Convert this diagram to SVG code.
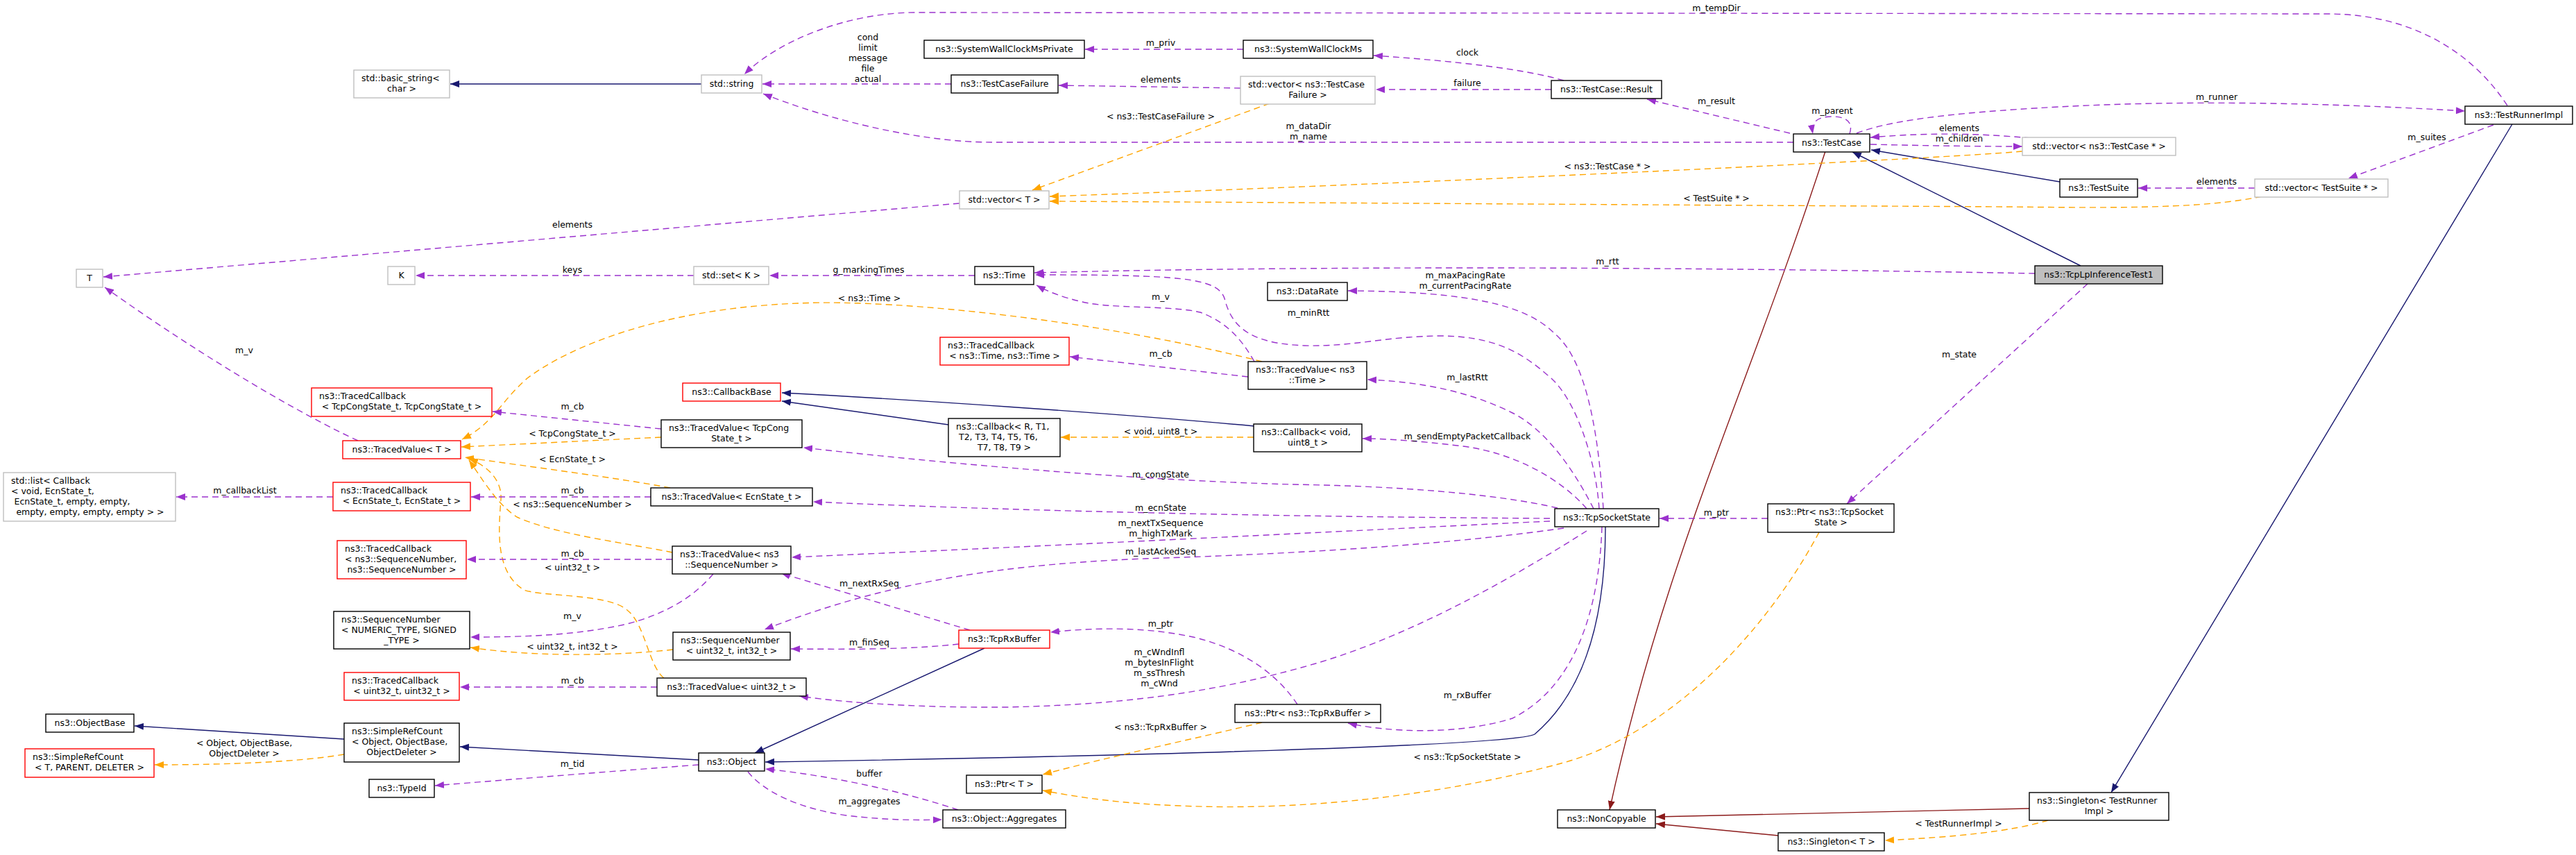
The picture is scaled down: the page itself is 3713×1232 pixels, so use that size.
<svg xmlns="http://www.w3.org/2000/svg" width="3713" height="1232" viewBox="0 0 3713 1232">
<style>
text{font-family:"DejaVu Sans","Liberation Sans",sans-serif;font-size:12.5px;fill:#000}
.c{text-anchor:middle}
.node rect{fill:#fff;stroke:#000;stroke-width:1.4}
.node.g rect{stroke:#bfbfbf}
.node.r rect{stroke:#ff0000}
.node.root rect{fill:#bfbfbf}
#edges path{fill:none;stroke-width:1.4}
.inh{stroke:#191970;marker-end:url(#a-inh)}
.priv{stroke:#8b1a1a;marker-end:url(#a-priv)}
.use{stroke:#9a32cd;stroke-dasharray:9,6;marker-end:url(#a-use)}
.tpl{stroke:#ffa500;stroke-dasharray:9,6;marker-end:url(#a-tpl)}
</style>
<defs>
<marker id="a-inh" markerUnits="userSpaceOnUse" markerWidth="14" markerHeight="11" refX="13" refY="5" orient="auto" viewBox="0 0 14 10"><path d="M0,0 L13,5 L0,10 z" fill="#191970"/></marker>
<marker id="a-priv" markerUnits="userSpaceOnUse" markerWidth="14" markerHeight="11" refX="13" refY="5" orient="auto" viewBox="0 0 14 10"><path d="M0,0 L13,5 L0,10 z" fill="#8b1a1a"/></marker>
<marker id="a-use" markerUnits="userSpaceOnUse" markerWidth="14" markerHeight="11" refX="13" refY="5" orient="auto" viewBox="0 0 14 10"><path d="M0,0 L13,5 L0,10 z" fill="#9a32cd"/></marker>
<marker id="a-tpl" markerUnits="userSpaceOnUse" markerWidth="14" markerHeight="11" refX="13" refY="5" orient="auto" viewBox="0 0 14 10"><path d="M0,0 L13,5 L0,10 z" fill="#ffa500"/></marker>
</defs>
<rect width="3713" height="1232" fill="#fff"/>
<g id="edges">
<path class="inh" d="M1011,121 L649,121"/>
<path class="inh" d="M2969,262 L2697,216"/>
<path class="inh" d="M2999,383 L2670,219"/>
<path class="inh" d="M3621,179 L3043,1142"/>
<path class="inh" d="M1367,612 L1127,578"/>
<path class="inh" d="M1808,614 C1600,595 1300,575 1127,566"/>
<path class="inh" d="M496,1065 L194,1046"/>
<path class="inh" d="M1007,1095 L663,1076"/>
<path class="inh" d="M1419,934 L1088,1085"/>
<path class="inh" d="M2314,759 C2314,900 2280,1000 2212,1058 C2180,1075 1600,1090 1103,1098"/>
<path class="priv" d="M2631,218 C2520,560 2400,800 2320,1167"/>
<path class="priv" d="M2925,1165 L2387,1177"/>
<path class="priv" d="M2563,1204 L2387,1187"/>
<path class="tpl" d="M1830,149 L1488,274"/>
<path class="tpl" d="M2915,218 C2800,229 2000,266 1513,283"/>
<path class="tpl" d="M3260,283 C3180,300 3060,300 2900,298 C2500,296 1900,292 1513,290"/>
<path class="tpl" d="M1819,521 C1600,465 1300,430 1150,437 C950,445 820,500 760,545 C720,580 712,610 666,633"/>
<path class="tpl" d="M953,630 L665,644"/>
<path class="tpl" d="M966,703 C900,690 760,672 670,659"/>
<path class="tpl" d="M969,796 C900,782 800,770 745,745 C715,725 695,690 676,663"/>
<path class="tpl" d="M957,977 C935,960 930,900 905,880 C880,855 780,860 755,850 C715,825 718,770 722,720 C724,690 700,670 676,661"/>
<path class="tpl" d="M970,936 C900,944 780,948 678,933"/>
<path class="tpl" d="M1807,630 L1529,630"/>
<path class="tpl" d="M496,1087 C430,1098 330,1102 223,1102"/>
<path class="tpl" d="M1819,1041 C1720,1065 1600,1090 1503,1116"/>
<path class="tpl" d="M2622,767 C2540,920 2400,1060 2250,1100 C2100,1140 1900,1170 1700,1161 C1620,1158 1560,1150 1503,1139"/>
<path class="tpl" d="M2952,1182 C2900,1198 2820,1206 2717,1211"/>
<path class="use" d="M3614,152 C3560,70 3470,20 3355,20 L1320,18 C1220,18 1120,60 1073,107"/>
<path class="use" d="M1371,121 L1099,121"/>
<path class="use" d="M2585,205 L1430,205 C1330,205 1200,175 1100,135"/>
<path class="use" d="M1792,71 L1564,71"/>
<path class="use" d="M2254,116 C2200,100 2100,88 1980,80"/>
<path class="use" d="M2236,129 L1983,129"/>
<path class="use" d="M1788,127 L1526,123"/>
<path class="use" d="M2580,192 L2374,143"/>
<path class="use" d="M2666,193 C2672,175 2660,168 2641,168 C2620,168 2610,175 2613,193"/>
<path class="use" d="M2676,192 C2720,175 2800,163 2967,154 C3150,144 3350,148 3553,160"/>
<path class="use" d="M2927,199 C2860,193 2790,190 2696,198"/>
<path class="use" d="M2696,208 C2780,210 2850,211 2915,211"/>
<path class="use" d="M3594,180 L3385,257"/>
<path class="use" d="M3250,271 L3082,271"/>
<path class="use" d="M1383,293 L149,399"/>
<path class="use" d="M1000,397 L599,397"/>
<path class="use" d="M1405,397 L1109,397"/>
<path class="use" d="M2933,394 C2600,388 2000,380 1491,393"/>
<path class="use" d="M2305,733 C2300,660 2270,570 2230,540 C2190,505 2150,485 2079,484 C2000,484 1950,500 1880,498 C1800,495 1775,470 1765,430 C1755,400 1700,396 1492,396"/>
<path class="use" d="M2311,733 C2305,640 2290,520 2240,480 C2200,440 2120,420 1943,419"/>
<path class="use" d="M2297,733 C2270,680 2230,620 2180,595 C2120,565 2050,550 1971,547"/>
<path class="use" d="M2287,733 C2250,690 2180,650 2100,642 C2050,636 2000,632 1964,632"/>
<path class="use" d="M1808,521 C1790,490 1770,465 1730,450 C1690,440 1600,445 1560,435 C1530,428 1510,420 1494,411"/>
<path class="use" d="M1799,543 L1542,514"/>
<path class="use" d="M2245,732 C2150,710 2000,700 1860,698 C1650,692 1400,672 1158,645"/>
<path class="use" d="M953,618 L710,593"/>
<path class="use" d="M516,635 C440,600 300,520 151,414"/>
<path class="use" d="M2234,747 C1900,745 1500,738 1172,723"/>
<path class="use" d="M938,716 L679,716"/>
<path class="use" d="M480,716 L254,716"/>
<path class="use" d="M2234,751 C2000,762 1700,778 1141,803"/>
<path class="use" d="M969,806 L673,806"/>
<path class="use" d="M2254,761 C2050,790 1800,800 1650,805 C1400,815 1250,850 1102,907"/>
<path class="use" d="M1028,827 C1000,860 960,885 900,900 C830,915 760,918 678,918"/>
<path class="use" d="M1398,908 L1126,826"/>
<path class="use" d="M1382,928 C1320,935 1250,936 1140,935"/>
<path class="use" d="M2287,765 C2200,820 2050,910 1900,955 C1780,990 1650,1015 1450,1019 C1300,1020 1200,1010 1152,1003"/>
<path class="use" d="M947,990 L663,990"/>
<path class="use" d="M1870,1015 C1840,970 1790,935 1720,918 C1650,903 1580,904 1514,911"/>
<path class="use" d="M2309,759 C2305,880 2270,990 2180,1035 C2100,1060 2000,1055 1943,1042"/>
<path class="use" d="M1007,1102 C900,1110 750,1122 627,1132"/>
<path class="use" d="M1381,1167 C1300,1140 1200,1118 1103,1108"/>
<path class="use" d="M1078,1112 C1100,1140 1150,1165 1220,1175 C1280,1182 1320,1182 1358,1181"/>
<path class="use" d="M2548,747 L2392,747"/>
<path class="use" d="M3009,409 L2662,726"/>
</g>
<g id="edge-labels" class="c">
<text x="2474" y="16" class="c">m_tempDir</text>
<text x="1251" y="58" class="c">cond</text>
<text x="1251" y="73" class="c">limit</text>
<text x="1251" y="88" class="c">message</text>
<text x="1251" y="103" class="c">file</text>
<text x="1251" y="118" class="c">actual</text>
<text x="1673" y="66" class="c">m_priv</text>
<text x="2115" y="80" class="c">clock</text>
<text x="1673" y="119" class="c">elements</text>
<text x="2115" y="124" class="c">failure</text>
<text x="2474" y="150" class="c">m_result</text>
<text x="2641" y="164" class="c">m_parent</text>
<text x="3195" y="144" class="c">m_runner</text>
<text x="1673" y="172" class="c">&lt; ns3::TestCaseFailure &gt;</text>
<text x="1886" y="186" class="c">m_dataDir</text>
<text x="1886" y="201" class="c">m_name</text>
<text x="2824" y="189" class="c">elements</text>
<text x="2824" y="204" class="c">m_children</text>
<text x="3498" y="202" class="c">m_suites</text>
<text x="2317" y="244" class="c">&lt; ns3::TestCase * &gt;</text>
<text x="3195" y="266" class="c">elements</text>
<text x="2474" y="290" class="c">&lt; TestSuite * &gt;</text>
<text x="825" y="328" class="c">elements</text>
<text x="2317" y="381" class="c">m_rtt</text>
<text x="825" y="393" class="c">keys</text>
<text x="1252" y="393" class="c">g_markingTimes</text>
<text x="2112" y="401" class="c">m_maxPacingRate</text>
<text x="2112" y="416" class="c">m_currentPacingRate</text>
<text x="1673" y="432" class="c">m_v</text>
<text x="1253" y="434" class="c">&lt; ns3::Time &gt;</text>
<text x="1886" y="455" class="c">m_minRtt</text>
<text x="352" y="509" class="c">m_v</text>
<text x="2824" y="515" class="c">m_state</text>
<text x="1673" y="514" class="c">m_cb</text>
<text x="2115" y="548" class="c">m_lastRtt</text>
<text x="825" y="590" class="c">m_cb</text>
<text x="1673" y="626" class="c">&lt; void, uint8_t &gt;</text>
<text x="825" y="629" class="c">&lt; TcpCongState_t &gt;</text>
<text x="2115" y="633" class="c">m_sendEmptyPacketCallback</text>
<text x="825" y="666" class="c">&lt; EcnState_t &gt;</text>
<text x="1673" y="688" class="c">m_congState</text>
<text x="353" y="711" class="c">m_callbackList</text>
<text x="825" y="711" class="c">m_cb</text>
<text x="825" y="731" class="c">&lt; ns3::SequenceNumber &gt;</text>
<text x="1673" y="736" class="c">m_ecnState</text>
<text x="2474" y="743" class="c">m_ptr</text>
<text x="1673" y="758" class="c">m_nextTxSequence</text>
<text x="1673" y="773" class="c">m_highTxMark</text>
<text x="1673" y="799" class="c">m_lastAckedSeq</text>
<text x="825" y="802" class="c">m_cb</text>
<text x="825" y="822" class="c">&lt; uint32_t &gt;</text>
<text x="1253" y="845" class="c">m_nextRxSeq</text>
<text x="825" y="892" class="c">m_v</text>
<text x="1673" y="903" class="c">m_ptr</text>
<text x="1253" y="930" class="c">m_finSeq</text>
<text x="825" y="936" class="c">&lt; uint32_t, int32_t &gt;</text>
<text x="1671" y="944" class="c">m_cWndInfl</text>
<text x="1671" y="959" class="c">m_bytesInFlight</text>
<text x="1671" y="974" class="c">m_ssThresh</text>
<text x="1671" y="989" class="c">m_cWnd</text>
<text x="825" y="985" class="c">m_cb</text>
<text x="2115" y="1006" class="c">m_rxBuffer</text>
<text x="1673" y="1052" class="c">&lt; ns3::TcpRxBuffer &gt;</text>
<text x="352" y="1075" class="c">&lt; Object, ObjectBase,</text>
<text x="352" y="1090" class="c">ObjectDeleter &gt;</text>
<text x="2115" y="1095" class="c">&lt; ns3::TcpSocketState &gt;</text>
<text x="825" y="1105" class="c">m_tid</text>
<text x="1253" y="1119" class="c">buffer</text>
<text x="1253" y="1159" class="c">m_aggregates</text>
<text x="2823" y="1191" class="c">&lt; TestRunnerImpl &gt;</text>
</g>
<g id="n_basic_string" class="node g"><rect x="510" y="101" width="138" height="40"/><text x="521" y="117">std::basic_string&lt;</text><text x="579" y="132" class="c">char &gt;</text></g>
<g id="n_string" class="node g"><rect x="1011" y="108" width="87" height="26"/><text x="1054.5" y="125" class="c">std::string</text></g>
<g id="n_swcmp" class="node"><rect x="1332" y="58" width="231" height="26"/><text x="1447.5" y="75" class="c">ns3::SystemWallClockMsPrivate</text></g>
<g id="n_swcm" class="node"><rect x="1792" y="58" width="187" height="26"/><text x="1885.5" y="75" class="c">ns3::SystemWallClockMs</text></g>
<g id="n_tcf" class="node"><rect x="1371" y="108" width="154" height="26"/><text x="1448" y="125" class="c">ns3::TestCaseFailure</text></g>
<g id="n_vec_tcf" class="node g"><rect x="1788" y="110" width="194" height="40"/><text x="1799" y="126">std::vector&lt; ns3::TestCase</text><text x="1885" y="141" class="c">Failure &gt;</text></g>
<g id="n_result" class="node"><rect x="2236" y="116" width="159" height="26"/><text x="2315.5" y="133" class="c">ns3::TestCase::Result</text></g>
<g id="n_testcase" class="node"><rect x="2585" y="193" width="110" height="26"/><text x="2640" y="210" class="c">ns3::TestCase</text></g>
<g id="n_vec_tc" class="node g"><rect x="2915" y="198" width="221" height="26"/><text x="3025.5" y="215" class="c">std::vector&lt; ns3::TestCase * &gt;</text></g>
<g id="n_runner" class="node"><rect x="3553" y="153" width="155" height="26"/><text x="3630.5" y="170" class="c">ns3::TestRunnerImpl</text></g>
<g id="n_suite" class="node"><rect x="2969" y="258" width="112" height="26"/><text x="3025" y="275" class="c">ns3::TestSuite</text></g>
<g id="n_vec_ts" class="node g"><rect x="3250" y="258" width="192" height="26"/><text x="3346" y="275" class="c">std::vector&lt; TestSuite * &gt;</text></g>
<g id="n_vec_t" class="node g"><rect x="1383" y="275" width="129" height="26"/><text x="1447.5" y="292" class="c">std::vector&lt; T &gt;</text></g>
<g id="n_root" class="node root"><rect x="2933" y="383" width="184" height="26"/><text x="3025" y="400" class="c">ns3::TcpLpInferenceTest1</text></g>
<g id="n_T" class="node g"><rect x="110" y="388" width="38" height="26"/><text x="129" y="405" class="c">T</text></g>
<g id="n_K" class="node g"><rect x="559" y="384" width="39" height="26"/><text x="578.5" y="401" class="c">K</text></g>
<g id="n_set" class="node g"><rect x="1000" y="384" width="108" height="26"/><text x="1054" y="401" class="c">std::set&lt; K &gt;</text></g>
<g id="n_time" class="node"><rect x="1405" y="384" width="85" height="26"/><text x="1447.5" y="401" class="c">ns3::Time</text></g>
<g id="n_datarate" class="node"><rect x="1827" y="407" width="115" height="26"/><text x="1884.5" y="424" class="c">ns3::DataRate</text></g>
<g id="n_tc_time" class="node r"><rect x="1355" y="486" width="186" height="40"/><text x="1366" y="502">ns3::TracedCallback</text><text x="1448" y="517" class="c">&lt; ns3::Time, ns3::Time &gt;</text></g>
<g id="n_tv_time" class="node"><rect x="1799" y="521" width="171" height="40"/><text x="1810" y="537">ns3::TracedValue&lt; ns3</text><text x="1884.5" y="552" class="c">::Time &gt;</text></g>
<g id="n_tc_cong" class="node r"><rect x="449" y="559" width="260" height="41"/><text x="460" y="575">ns3::TracedCallback</text><text x="579" y="590" class="c">&lt; TcpCongState_t, TcpCongState_t &gt;</text></g>
<g id="n_cbbase" class="node r"><rect x="984" y="552" width="141" height="26"/><text x="1054.5" y="569" class="c">ns3::CallbackBase</text></g>
<g id="n_tv_cong" class="node"><rect x="953" y="605" width="203" height="40"/><text x="964" y="621">ns3::TracedValue&lt; TcpCong</text><text x="1054.5" y="636" class="c">State_t &gt;</text></g>
<g id="n_cb_r" class="node"><rect x="1367" y="603" width="161" height="55"/><text x="1378" y="619">ns3::Callback&lt; R, T1,</text><text x="1382" y="634">T2, T3, T4, T5, T6,</text><text x="1447.5" y="649" class="c">T7, T8, T9 &gt;</text></g>
<g id="n_cb_void" class="node"><rect x="1807" y="611" width="156" height="40"/><text x="1818" y="627">ns3::Callback&lt; void,</text><text x="1885" y="642" class="c">uint8_t &gt;</text></g>
<g id="n_tv_t" class="node r"><rect x="494" y="635" width="170" height="26"/><text x="579" y="652" class="c">ns3::TracedValue&lt; T &gt;</text></g>
<g id="n_list" class="node g"><rect x="5" y="681" width="248" height="70"/><text x="16" y="697">std::list&lt; Callback</text><text x="16" y="712">&lt; void, EcnState_t,</text><text x="20.5" y="727">EcnState_t, empty, empty,</text><text x="130" y="742" class="c">empty, empty, empty, empty &gt; &gt;</text></g>
<g id="n_tc_ecn" class="node r"><rect x="480" y="695" width="198" height="41"/><text x="491" y="711">ns3::TracedCallback</text><text x="579" y="726" class="c">&lt; EcnState_t, EcnState_t &gt;</text></g>
<g id="n_tv_ecn" class="node"><rect x="938" y="703" width="233" height="26"/><text x="1054.5" y="720" class="c">ns3::TracedValue&lt; EcnState_t &gt;</text></g>
<g id="n_tss" class="node"><rect x="2241" y="733" width="150" height="26"/><text x="2316" y="750" class="c">ns3::TcpSocketState</text></g>
<g id="n_ptr_tss" class="node"><rect x="2548" y="726" width="182" height="41"/><text x="2559" y="742">ns3::Ptr&lt; ns3::TcpSocket</text><text x="2639" y="757" class="c">State &gt;</text></g>
<g id="n_tc_seq" class="node r"><rect x="486" y="779" width="186" height="55"/><text x="497" y="795">ns3::TracedCallback</text><text x="497" y="810">&lt; ns3::SequenceNumber,</text><text x="579" y="825" class="c">ns3::SequenceNumber &gt;</text></g>
<g id="n_tv_seq" class="node"><rect x="969" y="787" width="171" height="40"/><text x="980" y="803">ns3::TracedValue&lt; ns3</text><text x="1054.5" y="818" class="c">::SequenceNumber &gt;</text></g>
<g id="n_seq_num" class="node"><rect x="481" y="881" width="196" height="54"/><text x="492" y="897">ns3::SequenceNumber</text><text x="492" y="912">&lt; NUMERIC_TYPE, SIGNED</text><text x="579" y="927" class="c">_TYPE &gt;</text></g>
<g id="n_rxbuf" class="node r"><rect x="1382" y="908" width="131" height="26"/><text x="1447.5" y="925" class="c">ns3::TcpRxBuffer</text></g>
<g id="n_seq_u32" class="node"><rect x="970" y="911" width="169" height="40"/><text x="981" y="927">ns3::SequenceNumber</text><text x="1054.5" y="942" class="c">&lt; uint32_t, int32_t &gt;</text></g>
<g id="n_tc_u32" class="node r"><rect x="496" y="969" width="166" height="40"/><text x="507" y="985">ns3::TracedCallback</text><text x="579" y="1000" class="c">&lt; uint32_t, uint32_t &gt;</text></g>
<g id="n_tv_u32" class="node"><rect x="947" y="977" width="215" height="26"/><text x="1054.5" y="994" class="c">ns3::TracedValue&lt; uint32_t &gt;</text></g>
<g id="n_ptr_rx" class="node"><rect x="1780" y="1015" width="210" height="26"/><text x="1885" y="1032" class="c">ns3::Ptr&lt; ns3::TcpRxBuffer &gt;</text></g>
<g id="n_objbase" class="node"><rect x="66" y="1029" width="127" height="26"/><text x="129.5" y="1046" class="c">ns3::ObjectBase</text></g>
<g id="n_src_obj" class="node"><rect x="496" y="1042" width="166" height="56"/><text x="507" y="1058">ns3::SimpleRefCount</text><text x="507" y="1073">&lt; Object, ObjectBase,</text><text x="579" y="1088" class="c">ObjectDeleter &gt;</text></g>
<g id="n_src_t" class="node r"><rect x="36" y="1079" width="186" height="41"/><text x="47" y="1095">ns3::SimpleRefCount</text><text x="129" y="1110" class="c">&lt; T, PARENT, DELETER &gt;</text></g>
<g id="n_object" class="node"><rect x="1007" y="1085" width="95" height="26"/><text x="1054.5" y="1102" class="c">ns3::Object</text></g>
<g id="n_ptr_t" class="node"><rect x="1393" y="1117" width="109" height="26"/><text x="1447.5" y="1134" class="c">ns3::Ptr&lt; T &gt;</text></g>
<g id="n_typeid" class="node"><rect x="532" y="1123" width="94" height="26"/><text x="579" y="1140" class="c">ns3::TypeId</text></g>
<g id="n_singleton_tr" class="node"><rect x="2925" y="1142" width="201" height="40"/><text x="2936" y="1158">ns3::Singleton&lt; TestRunner</text><text x="3025.5" y="1173" class="c">Impl &gt;</text></g>
<g id="n_noncopy" class="node"><rect x="2245" y="1167" width="141" height="26"/><text x="2315.5" y="1184" class="c">ns3::NonCopyable</text></g>
<g id="n_aggr" class="node"><rect x="1359" y="1167" width="177" height="26"/><text x="1447.5" y="1184" class="c">ns3::Object::Aggregates</text></g>
<g id="n_singleton_t" class="node"><rect x="2563" y="1200" width="153" height="26"/><text x="2639.5" y="1217" class="c">ns3::Singleton&lt; T &gt;</text></g>
</svg>
